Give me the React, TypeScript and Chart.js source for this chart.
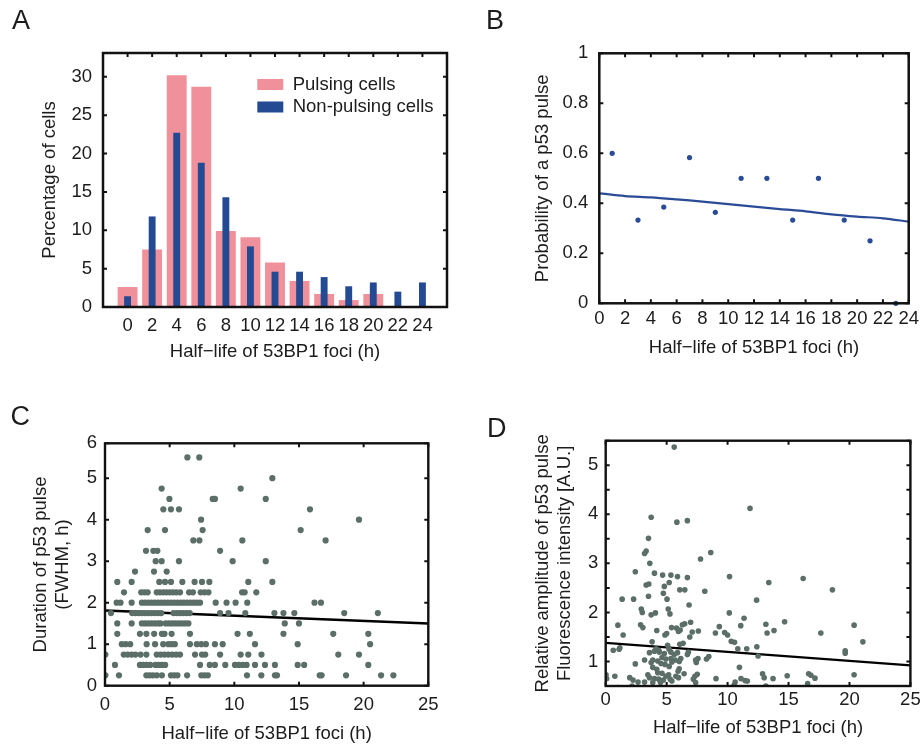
import React, { useEffect, useRef } from 'react';
import { Chart, registerables } from 'chart.js';

Chart.register(...registerables);

const FONT = "'Liberation Sans', Arial, Helvetica, sans-serif";
const TEXT = '#1c1c1c';
const PINK = '#f0909a';
const NAVY = '#234a92';
const BLUE = '#2a4b96';
const GREY = '#5b6e68';
const X_TITLE = 'Half\u2212life of 53BP1 foci (h)';

// ---------- Panel A ----------
const aBins = [0, 2, 4, 6, 8, 10, 12, 14, 16, 18, 20, 22, 24];
const aPulsing = [2.6, 7.5, 30.2, 28.7, 9.9, 9.1, 5.8, 3.4, 1.7, 0.9, 1.7, 0, 0];
const aNonPulsing = [1.4, 11.8, 22.7, 18.8, 14.3, 7.9, 4.6, 4.6, 3.9, 2.7, 3.2, 2.0, 3.2];
const aTicksY = [0, 5, 10, 15, 20, 25, 30];

// ---------- Panel B ----------
const bHalfLife = [1, 3, 5, 7, 9, 11, 13, 15, 17, 19, 21, 23];
const bProbability = [0.6, 0.333, 0.385, 0.583, 0.364, 0.5, 0.5, 0.333, 0.5, 0.333, 0.25, 0];
const bFitX = [0, 2, 4, 6, 8, 10, 12, 14, 16, 18, 20, 22, 24];
const bFitY = [0.44, 0.429, 0.424, 0.416, 0.407, 0.397, 0.387, 0.377, 0.368, 0.356, 0.347, 0.34, 0.327];
const bTicksX = [0, 2, 4, 6, 8, 10, 12, 14, 16, 18, 20, 22, 24];
const bTicksY = [0, 0.2, 0.4, 0.6, 0.8, 1];
const bTickLabelsY = ['0', '0.2', '0.4', '0.6', '0.8', '1'];

// ---------- Panel C ----------
const cDurationLevels = [0.25, 0.5, 0.75, 1.0, 1.25, 1.5, 1.75, 2.0, 2.25, 2.5, 2.75, 3.0, 3.25, 3.5, 3.75, 4.0, 4.25, 4.5, 4.75, 5.0, 5.5];
const cHalfLifeByLevel = [
  [0.03, 1.08, 3.2, 3.45, 3.7, 4.0, 4.4, 5.1, 5.35, 5.6, 6.35, 7.45, 7.7, 7.95, 10.98, 12.09, 13.14, 13.3, 16.6, 16.75, 18.64, 21.35, 22.3],
  [0.77, 2.7, 2.95, 3.2, 3.5, 3.9, 4.15, 4.4, 4.65, 7.35, 8.1, 8.5, 9.3, 10.05, 10.35, 10.65, 10.95, 11.6, 12.37, 13.14, 14.9, 15.4, 20.36],
  [0.03, 1.45, 1.75, 2.05, 2.35, 2.75, 3.2, 4.0, 4.3, 4.6, 4.9, 5.2, 5.5, 5.8, 6.96, 7.5, 7.75, 8.9, 10.49, 11.08, 12.1, 18.04, 19.64],
  [1.3, 1.6, 1.95, 3.22, 3.87, 4.5, 4.9, 5.15, 5.4, 6.57, 7.1, 7.45, 7.8, 8.5, 9.1, 11.6, 14.9, 20.5],
  [0.95, 2.7, 3.2, 3.8, 4.4, 4.6, 5.15, 6.57, 10.25, 11.2, 13.8, 17.65, 20.36],
  [0.95, 2.06, 2.85, 3.1, 3.35, 3.6, 3.85, 4.1, 4.3, 4.7, 4.95, 5.2, 5.45, 5.7, 5.95, 6.2, 6.45, 13.9, 15.0],
  [0.46, 2.1, 2.35, 2.6, 2.85, 3.1, 3.35, 3.6, 3.85, 4.1, 4.35, 5.3, 5.55, 5.8, 6.05, 6.3, 6.55, 8.9, 9.55, 10.85, 13.1, 13.8, 14.64, 18.5, 21.1],
  [0.9, 1.2, 2.06, 2.85, 3.1, 3.35, 3.6, 3.85, 4.1, 4.35, 4.6, 4.85, 5.1, 5.35, 5.6, 5.85, 6.1, 6.35, 6.6, 6.85, 7.1, 7.35, 8.56, 9.4, 10.1, 11.0, 16.2, 16.7],
  [1.47, 2.8, 3.05, 3.3, 4.0, 4.25, 4.5, 4.75, 5.0, 5.25, 5.5, 5.8, 6.5, 6.8, 7.4, 7.7, 8.0, 10.6, 10.8, 11.7],
  [0.95, 2.06, 4.2, 4.64, 5.1, 5.98, 6.93, 7.5, 8.07, 11.08, 12.94],
  [2.32, 3.79, 4.77],
  [3.92, 4.38, 5.72, 9.87, 12.43],
  [3.17, 3.74, 4.05, 8.9],
  [6.83, 7.3, 10.62, 17.06],
  [3.3, 4.64, 7.55, 15.13],
  [7.43, 19.64],
  [4.51, 5.1, 5.72, 15.85],
  [4.98, 8.33, 8.5, 12.43],
  [4.38, 10.49],
  [12.94],
  [6.37, 7.29],
];
const cFitX = [0, 25];
const cFitY = [1.81, 1.5];
const cTicksX = [0, 5, 10, 15, 20, 25];
const cTicksY = [0, 1, 2, 3, 4, 5, 5.84];
const cTickLabelsY = ['0', '1', '2', '3', '4', '5', '6'];

// ---------- Panel D ----------
const dPoints = [
  [5.62, 5.37], [3.73, 3.94], [5.84, 3.84], [6.7, 3.87], [11.84, 4.12], [3.51, 3.51], [3.19, 3.2], [3.32, 3.25], [3.62, 3.0], [7.78, 3.09], [8.62, 3.22],
  [2.43, 2.83], [4.0, 2.8], [4.67, 2.76], [5.35, 2.76], [5.89, 2.73], [6.7, 2.71], [10.16, 2.73], [16.2, 2.69], [13.38, 2.61],
  [3.32, 2.56], [3.54, 2.58], [5.21, 2.61], [4.81, 2.53], [6.08, 2.46], [6.49, 2.46], [8.13, 2.43], [18.6, 2.46],
  [1.35, 2.27], [2.29, 2.27], [3.51, 2.33], [4.73, 2.39], [5.03, 2.27], [12.38, 2.25],
  [2.92, 2.07], [3.0, 2.0], [3.73, 1.95], [4.08, 1.99], [5.13, 2.07], [5.27, 1.97], [6.84, 2.15], [10.14, 1.99], [11.35, 1.88], [14.68, 1.81],
  [1.0, 1.74], [2.86, 1.75], [3.05, 1.69], [1.43, 1.54], [4.19, 1.63], [5.4, 1.69], [5.81, 1.68], [4.86, 1.54], [5.0, 1.57], [6.29, 1.75], [6.48, 1.77], [6.97, 1.8], [5.97, 1.61], [6.11, 1.64], [6.9, 1.5], [7.1, 1.6], [7.6, 1.62],
  [9.0, 1.58], [9.32, 1.71], [9.76, 1.59], [10.0, 1.54], [11.08, 1.73], [13.14, 1.76], [13.24, 1.58], [13.81, 1.63], [17.65, 1.58], [20.38, 1.74], [21.1, 1.4],
  [12.4, 1.3], [3.81, 1.4], [10.3, 1.41], [10.57, 1.39], [19.65, 1.22], [19.65, 1.17], [12.5, 1.11],
  [0.62, 1.23], [1.1, 1.25], [1.16, 1.28], [4.13, 1.26], [4.35, 1.23], [5.08, 1.33], [5.2, 1.25], [6.08, 1.35], [6.35, 1.37], [10.84, 1.26], [11.57, 1.26],
  [3.59, 1.18], [4.0, 1.21], [4.4, 1.19], [4.81, 1.16], [5.35, 1.19], [5.62, 1.14], [5.89, 1.18], [6.78, 1.19], [6.7, 1.14],
  [3.86, 1.03], [4.27, 1.01], [4.62, 1.08], [4.94, 1.05], [5.35, 1.06], [5.7, 1.03], [3.19, 1.03], [7.57, 1.06], [8.46, 1.1], [8.27, 1.05], [6.03, 1.0], [6.16, 1.06], [7.43, 0.98], [7.38, 1.03],
  [2.43, 0.95], [3.73, 0.98], [3.86, 0.88], [4.19, 0.84], [4.54, 0.96], [4.86, 0.94], [5.21, 0.9], [5.43, 0.99], [6.03, 0.85], [5.94, 0.8], [10.97, 0.88],
  [4.27, 0.77], [4.62, 0.76], [4.94, 0.7], [5.16, 0.73], [3.46, 0.73], [5.76, 0.7], [5.97, 0.67], [6.43, 0.75], [7.32, 0.7], [7.51, 0.74], [9.05, 0.65], [11.1, 0.65], [11.43, 0.61],
  [0.03, 0.73], [0.08, 0.65], [0.75, 0.7], [1.97, 0.67], [2.24, 0.62], [2.65, 0.58], [3.19, 0.58], [3.59, 0.67], [4.0, 0.65], [4.35, 0.64], [4.73, 0.62], [5.29, 0.64], [5.43, 0.6], [7.19, 0.64], [10.54, 0.52], [10.62, 0.58], [11.62, 0.6],
  [1.0, 0.47], [2.16, 0.5], [3.86, 0.57], [4.49, 0.57], [5.89, 0.47], [7.38, 0.57],
  [12.87, 0.75], [13.0, 0.67], [13.73, 0.65], [14.89, 0.71], [16.65, 0.75], [16.84, 0.72], [17.17, 0.66], [16.57, 0.55], [13.14, 0.5], [20.38, 0.73],
];
const dFitX = [0, 25];
const dFitY = [1.38, 0.92];
const dTicksX = [0, 5, 10, 15, 20, 25];
const dTicksY = [0.5, 1, 1.5, 2, 2.5, 3, 3.5, 4, 4.5, 5, 5.5];

// ---------- helpers ----------
const frameTicksPlugin = {
  id: 'frameTicks',
  afterDatasetsDraw(chart: any, _args: any, opts: any) {
    const { ctx, chartArea } = chart;
    const { left, right, top, bottom } = chartArea;
    const xs = chart.scales.x;
    const ys = chart.scales.y;
    const L = opts.tickLen ?? 4;
    ctx.save();
    ctx.strokeStyle = '#111';
    ctx.lineWidth = opts.tickWidth ?? 2;
    ctx.beginPath();
    xs.ticks.forEach((t: any) => {
      const p = xs.getPixelForValue(t.value);
      if (!opts.skipBottom) {
        ctx.moveTo(p, bottom);
        ctx.lineTo(p, bottom - L);
      }
      ctx.moveTo(p, top);
      ctx.lineTo(p, top + L);
    });
    ys.ticks.forEach((t: any) => {
      const p = ys.getPixelForValue(t.value);
      ctx.moveTo(left, p);
      ctx.lineTo(left + L, p);
      ctx.moveTo(right, p);
      ctx.lineTo(right - L, p);
    });
    ctx.stroke();
    ctx.lineWidth = opts.frameWidth ?? 2.4;
    ctx.strokeRect(left, top, right - left, bottom - top);
    ctx.restore();
  },
};

const boxLegendPlugin = {
  id: 'boxLegend',
  afterDraw(chart: any, _args: any, opts: any) {
    if (!opts || !opts.display) return;
    const { ctx } = chart;
    ctx.save();
    chart.data.datasets.forEach((ds: any, i: number) => {
      const y = opts.y + i * opts.rowGap;
      ctx.fillStyle = ds.backgroundColor;
      ctx.fillRect(opts.x, y - opts.boxH / 2, opts.boxW, opts.boxH);
      ctx.fillStyle = TEXT;
      ctx.font = `${opts.fontSize}px ${FONT}`;
      ctx.textBaseline = 'middle';
      ctx.textAlign = 'left';
      ctx.fillText(ds.label, opts.x + opts.boxW + opts.gap, y);
    });
    ctx.restore();
  },
};

const tickFont = { family: FONT, size: 18.5 };
const xTitleFont = { family: FONT, size: 18.5, lineHeight: 1 };
const yTitleFont = { family: FONT, size: 18.5, lineHeight: 1.2 };

function axisX(opts: any) {
  return {
    type: 'linear',
    offset: false,
    min: opts.min,
    max: opts.max,
    afterBuildTicks: (s: any) => { s.ticks = opts.ticks.map((v: number) => ({ value: v })); },
    afterFit: (s: any) => { s.height = opts.height; },
    grid: { display: false, drawTicks: false },
    border: { display: false },
    ticks: { font: tickFont, color: TEXT, padding: opts.tickPad, maxRotation: 0, minRotation: 0, autoSkip: false, callback: (v: number) => String(v) },
    title: { display: true, text: X_TITLE, font: xTitleFont, color: TEXT, padding: { top: 0, bottom: opts.titlePad } },
  };
}

function axisY(opts: any) {
  return {
    type: 'linear',
    min: opts.min,
    max: opts.max,
    afterBuildTicks: (s: any) => { s.ticks = opts.ticks.map((v: number) => ({ value: v })); },
    afterFit: (s: any) => { s.width = opts.width; },
    grid: { display: false, drawTicks: false },
    border: { display: false },
    ticks: { font: tickFont, color: TEXT, padding: opts.tickPad, autoSkip: false, callback: opts.callback },
    title: { display: true, text: opts.title, font: yTitleFont, color: TEXT, padding: { top: opts.titlePad, bottom: 0 } },
  };
}

const baseOptions = {
  responsive: false,
  animation: false as const,
  devicePixelRatio: 1,
  events: [] as any[],
};

function configA(): any {
  return {
    type: 'bar',
    data: {
      datasets: [
        {
          label: 'Pulsing cells',
          data: aBins.map((b, i) => ({ x: b, y: aPulsing[i] })),
          backgroundColor: PINK,
          barPercentage: 0.81,
          categoryPercentage: 1,
          grouped: false,
          order: 1,
        },
        {
          label: 'Non-pulsing cells',
          data: aBins.map((b, i) => ({ x: b, y: aNonPulsing[i] })),
          backgroundColor: NAVY,
          barPercentage: 0.28,
          categoryPercentage: 1,
          grouped: false,
          order: 0,
        },
      ],
    },
    options: {
      ...baseOptions,
      layout: { padding: { left: 0, top: 53, right: 15, bottom: 0 } },
      plugins: {
        legend: { display: false },
        tooltip: { enabled: false },
        frameTicks: { tickLen: 4, tickWidth: 2, frameWidth: 2.5, skipBottom: true },
        boxLegend: { display: true, x: 257.3, y: 84.5, rowGap: 22.5, boxW: 26, boxH: 11, gap: 9.4, fontSize: 18.5 },
      },
      scales: {
        x: axisX({ min: -2, max: 26, ticks: aBins, height: 65, tickPad: 8, titlePad: 10.75 }),
        y: axisY({ min: 0, max: 33.1, ticks: aTicksY, width: 103, tickPad: 11, title: 'Percentage of cells', titlePad: 38.4, callback: (v: number) => String(v) }),
      },
    },
    plugins: [frameTicksPlugin, boxLegendPlugin],
  };
}

function configB(): any {
  return {
    type: 'scatter',
    data: {
      datasets: [
        {
          label: 'Probability',
          data: bHalfLife.map((x, i) => ({ x, y: bProbability[i] })),
          backgroundColor: BLUE,
          borderWidth: 0,
          pointRadius: 2.6,
          showLine: false,
          clip: false,
        },
        {
          label: 'Fit',
          data: bFitX.map((x, i) => ({ x, y: bFitY[i] })),
          borderColor: BLUE,
          borderWidth: 2.2,
          pointRadius: 0,
          showLine: true,
          tension: 0.3,
        },
      ],
    },
    options: {
      ...baseOptions,
      layout: { padding: { left: 0, top: 53.3, right: 12.3, bottom: 0 } },
      plugins: {
        legend: { display: false },
        tooltip: { enabled: false },
        frameTicks: { tickLen: 4, tickWidth: 2, frameWidth: 2.5 },
      },
      scales: {
        x: axisX({ min: 0, max: 24, ticks: bTicksX, height: 68.7, tickPad: 5, titlePad: 15.25 }),
        y: axisY({ min: 0, max: 1, ticks: bTicksY, width: 137.3, tickPad: 11, title: 'Probability of a p53 pulse', titlePad: 69.4, callback: (_v: number, i: number) => bTickLabelsY[i] }),
      },
    },
    plugins: [frameTicksPlugin],
  };
}

function configC(): any {
  const pts = cDurationLevels.flatMap((y, i) => cHalfLifeByLevel[i].map((x) => ({ x, y })));
  return {
    type: 'scatter',
    data: {
      datasets: [
        {
          label: 'Cells',
          data: pts,
          pointStyle: 'circle',
          pointRadius: 3.1,
          backgroundColor: GREY,
          borderWidth: 0,
          showLine: false,
        },
        {
          label: 'Fit',
          data: cFitX.map((x, i) => ({ x, y: cFitY[i] })),
          borderColor: '#000',
          borderWidth: 2.4,
          pointRadius: 0,
          showLine: true,
        },
      ],
    },
    options: {
      ...baseOptions,
      layout: { padding: { left: 0, top: 71.3, right: 33.7, bottom: 0 } },
      plugins: {
        legend: { display: false },
        tooltip: { enabled: false },
        frameTicks: { tickLen: 4, tickWidth: 2, frameWidth: 2.4 },
      },
      scales: {
        x: axisX({ min: 0, max: 25, ticks: cTicksX, height: 58.3, tickPad: 8, titlePad: 0.75 }),
        y: axisY({ min: 0, max: 5.84, ticks: cTicksY, width: 105, tickPad: 8, title: ['Duration of p53 pulse', '(FWHM, h)'], titlePad: 29.9, callback: (_v: number, i: number) => cTickLabelsY[i] }),
      },
    },
    plugins: [frameTicksPlugin],
  };
}

function configD(): any {
  return {
    type: 'scatter',
    data: {
      datasets: [
        {
          label: 'Cells',
          data: dPoints.map(([x, y]) => ({ x, y })),
          pointStyle: 'circle',
          pointRadius: 2.8,
          backgroundColor: GREY,
          borderWidth: 0,
          showLine: false,
        },
        {
          label: 'Fit',
          data: dFitX.map((x, i) => ({ x, y: dFitY[i] })),
          borderColor: '#000',
          borderWidth: 2.4,
          pointRadius: 0,
          showLine: true,
        },
      ],
    },
    options: {
      ...baseOptions,
      layout: { padding: { left: 0, top: 68.7, right: 10, bottom: 0 } },
      plugins: {
        legend: { display: false },
        tooltip: { enabled: false },
        frameTicks: { tickLen: 4, tickWidth: 2, frameWidth: 2.4 },
      },
      scales: {
        x: axisX({ min: 0, max: 25, ticks: dTicksX, height: 58, tickPad: 3.3, titlePad: 7.25 }),
        y: axisY({
          min: 0.5, max: 5.5, ticks: dTicksY, width: 143.7, tickPad: 7.4,
          title: ['Relative amplitude of p53 pulse', 'Fluorescence intensity [A.U.]'], titlePad: 69.4,
          callback: (v: number) => (Number.isInteger(v) ? String(v) : ''),
        }),
      },
    },
    plugins: [frameTicksPlugin],
  };
}

function Panel({ left, top, width, height, makeConfig }: { left: number; top: number; width: number; height: number; makeConfig: () => any }) {
  const ref = useRef<HTMLCanvasElement | null>(null);
  useEffect(() => {
    if (!ref.current) return;
    const chart = new Chart(ref.current, makeConfig());
    return () => chart.destroy();
  }, []);
  return (
    <canvas
      ref={ref}
      width={width}
      height={height}
      style={{ position: 'absolute', left, top, width, height }}
    />
  );
}

const letterStyle = (left: number, top: number): React.CSSProperties => ({
  position: 'absolute',
  left,
  top,
  fontFamily: FONT,
  fontSize: 27,
  lineHeight: 1,
  color: TEXT,
});

export default function App() {
  Chart.defaults.font.family = FONT;
  return (
    <div style={{ position: 'absolute', left: 0, top: 0, width: 924, height: 744, overflow: 'hidden', background: '#fff' }}>
      <Panel left={0} top={0} width={462} height={372} makeConfig={configA} />
      <Panel left={462} top={0} width={462} height={372} makeConfig={configB} />
      <Panel left={0} top={372} width={462} height={372} makeConfig={configC} />
      <Panel left={462} top={372} width={462} height={372} makeConfig={configD} />
      <div style={letterStyle(12, 6.5)}>A</div>
      <div style={letterStyle(486, 6.5)}>B</div>
      <div style={letterStyle(10.6, 403)}>C</div>
      <div style={letterStyle(487, 414.5)}>D</div>
    </div>
  );
}
